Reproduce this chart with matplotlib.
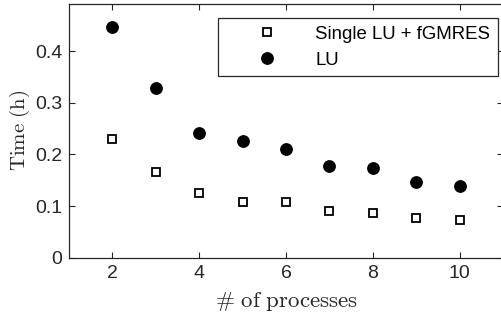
import matplotlib
matplotlib.use("Agg")
import matplotlib.pyplot as plt

processes = [2, 3, 4, 5, 6, 7, 8, 9, 10]
single_lu_fgmres = [0.230, 0.166, 0.125, 0.108, 0.108, 0.091, 0.087, 0.076, 0.072]
lu = [0.447, 0.328, 0.242, 0.225, 0.211, 0.177, 0.174, 0.146, 0.138]

grey = "#262626"
plt.rcParams["font.family"] = ["Liberation Sans", "DejaVu Sans"]
plt.rcParams["mathtext.fontset"] = "cm"

fig = plt.figure(figsize=(5.02, 3.22), dpi=100)
ax = fig.add_axes([69 / 502, 1 - 257.7 / 322, 434 / 502, 253.7 / 322])

ax.plot(processes, single_lu_fgmres, ls="none", marker="s", ms=6.3, mfc="white",
        mec="black", mew=1.3, label="Single LU + fGMRES")
ax.plot(processes, lu, ls="none", marker="o", ms=8.2, mfc="black", mec="black",
        label="LU")

ax.set_xlim(1, 11)
ax.set_ylim(0, 0.491)
ax.set_xticks([2, 4, 6, 8, 10])
ax.set_yticks([0, 0.1, 0.2, 0.3, 0.4])
ax.set_yticklabels(["0", "0.1", "0.2", "0.3", "0.4"])
ax.tick_params(direction="in", length=4, width=0.8, colors=grey, labelsize=14,
               top=True, right=True, pad=5)
for s in ax.spines.values():
    s.set_color(grey)
    s.set_linewidth(0.9)

ax.set_xlabel(r"$\#\ \mathrm{of\ processes}$", fontsize=16.5, color=grey, labelpad=6)
ax.set_ylabel(r"$\mathrm{Time\ (h)}$", fontsize=15, color=grey, labelpad=2)

leg = ax.legend(loc="upper right", bbox_to_anchor=(0.988, 0.944), borderaxespad=0,
                fontsize=13.4, fancybox=False, framealpha=1, edgecolor=grey,
                handlelength=4.4, handletextpad=0.42, borderpad=0.4, labelspacing=0.5)
leg.get_frame().set_linewidth(0.9)

fig.savefig("out.png", dpi=100)
